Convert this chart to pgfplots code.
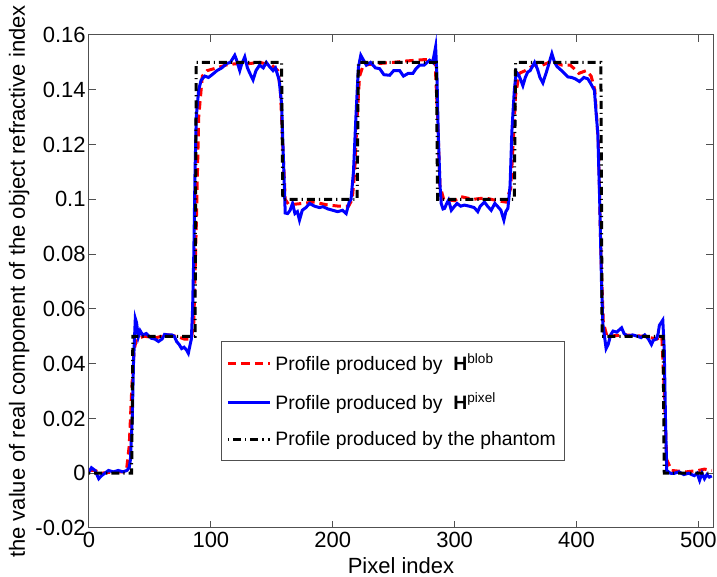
\documentclass[border=0pt]{standalone}
\usepackage{fontspec}
\setmainfont{Liberation Sans}
\usepackage{pgfplots}
\pgfplotsset{compat=1.18}
\definecolor{mred}{RGB}{255,0,0}
\definecolor{mblue}{RGB}{0,0,255}
\definecolor{axisgray}{RGB}{80,80,80}

\begin{document}
\begin{tikzpicture}
\begin{axis}[
    scale only axis,
    width=312pt, height=246.5pt,
    xmin=0, xmax=512,
    ymin=-0.02, ymax=0.16,
    xtick={0,100,200,300,400,500},
    xticklabels={0,100,200,300,400,500},
    ytick={-0.02,0,0.02,0.04,0.06,0.08,0.1,0.12,0.14,0.16},
    yticklabels={-0.02,0,0.02,0.04,0.06,0.08,0.1,0.12,0.14,0.16},
    tick align=inside,
    major tick length=3.5pt,
    axis line style={axisgray, line width=0.5pt},
    every tick/.style={axisgray, line width=0.5pt},
    tick label style={font=\fontsize{11}{13}\selectfont},
    yticklabel style={inner xsep=1.5pt},
    xticklabel style={inner ysep=2pt},
    xlabel={Pixel index},
    ylabel={the value of real component of the object refractive index},
    label style={font=\fontsize{11}{13}\selectfont},
    xlabel style={at={(axis description cs:0.5,-0.076)}, anchor=center},
    ylabel style={at={(axis description cs:-0.112,0.5)}, anchor=center, rotate=0},
    legend style={
        at={(axis description cs:0.2115,0.136)}, anchor=south west,
        draw=axisgray, line width=0.5pt,
        font=\fontsize{9.7}{11.5}\selectfont,
        row sep=5.5pt, inner xsep=2.5pt, inner ysep=4pt,
        legend cell align=left,
    },
    legend image code/.code={\draw[#1] (0pt,0pt) -- (21pt,0pt);},
]
% blob reconstruction
\addplot[mred, line width=1.5pt, dash pattern=on 4.2pt off 2.5pt] coordinates {
(0,0.001)(5,0.001)(10,0)(20,0.0005)(28,0.0005)(31,0.002)(33,0.01)(35,0.03)(37,0.045)(39,0.049)
(45,0.05)(55,0.0495)(65,0.0505)(72,0.05)(78,0.049)(84,0.049)(86,0.055)(88,0.09)(90,0.13)(93,0.145)
(97,0.147)(105,0.148)(112,0.149)(120,0.1495)(130,0.1495)(140,0.150)(150,0.149)(155,0.147)(157,0.14)
(159,0.12)(161,0.10)(164,0.098)(175,0.0985)(185,0.099)(195,0.098)(205,0.0975)(213,0.0975)(216,0.1)
(218,0.11)(220,0.13)(222,0.145)(225,0.149)(235,0.1495)(250,0.150)(260,0.1505)(275,0.151)(282,0.151)
(284,0.15)(286,0.13)(288,0.105)(291,0.1)(300,0.0995)(305,0.101)(315,0.1)(325,0.1005)(335,0.0995)
(342,0.099)(346,0.104)(348,0.12)(350,0.138)(353,0.146)(358,0.147)(365,0.149)(372,0.149)(380,0.1505)
(388,0.149)(395,0.149)(402,0.146)(408,0.147)(412,0.145)(415,0.14)(418,0.12)(420,0.08)(422,0.055)
(425,0.05)(440,0.0505)(455,0.05)(466,0.049)(470,0.05)(472,0.03)(474,0.005)(478,0.001)(490,0.0005)
(500,0.001)(505,0.0015)(511,0.001)
};
\addlegendentry{Profile produced by \ \textbf{H}\textsuperscript{blob}}
% pixel reconstruction
\addplot[mblue, line width=1.5pt] coordinates {
(0,0.0005)(2,0.002)(5,0.001)(8,-0.002)(10,-0.001)(13,0)(16,0.001)(20,0.0005)(24,0.001)(28,0.0005)
(31,0.001)(33,0.002)(34,0.005)(35.5,0.02)(36.5,0.04)(38,0.0565)(39,0.055)(40.5,0.0498)(42,0.052)
(44,0.0505)(47,0.051)(51,0.0493)(54,0.049)(57,0.0481)(60,0.049)(62,0.0507)(65,0.0505)(68,0.0505)
(70,0.050)(72,0.048)(74,0.047)(76,0.0455)(78,0.046)(80,0.045)(81.5,0.0438)(83,0.047)(84,0.049)
(85,0.06)(86,0.08)(87,0.11)(88,0.13)(90,0.14)(92,0.1435)(95,0.145)(98,0.1445)(101,0.1455)(105,0.147)
(109,0.148)(113,0.1496)(116,0.150)(119.6,0.1526)(121,0.151)(123.7,0.147)(125,0.149)(127.8,0.152)
(130,0.148)(132,0.146)(134.6,0.1436)(137,0.147)(140,0.149)(143,0.148)(145.5,0.150)(148,0.1485)
(151,0.147)(153,0.148)(156,0.1436)(158,0.135)(159.5,0.115)(161,0.095)(163,0.0948)(165,0.096)
(167,0.0985)(169,0.0948)(171,0.0955)(172.7,0.0924)(175,0.096)(178,0.097)(181,0.0985)(185,0.0975)
(189,0.097)(192,0.0973)(196,0.0965)(200,0.096)(204,0.0955)(208,0.096)(211,0.0948)(213.5,0.099)
(215,0.1)(217,0.11)(219,0.13)(221,0.148)(223,0.1526)(225,0.151)(227.6,0.149)(231,0.150)(235,0.148)
(238.5,0.1477)(242,0.1455)(246.7,0.1453)(250,0.147)(254.9,0.147)(258,0.145)(262,0.146)(265.8,0.146)
(268,0.1475)(271.3,0.149)(275,0.149)(279.5,0.1508)(282,0.150)(284.4,0.1557)(285.5,0.145)(286.5,0.125)
(288,0.105)(289,0.0985)(290.5,0.0965)(291.8,0.0967)(293.5,0.0985)(295,0.0997)(297.3,0.096)(300,0.0975)
(302,0.0985)(305,0.0975)(308,0.0979)(312,0.0975)(316,0.097)(319,0.0955)(321,0.0975)(324.5,0.099)
(327,0.0975)(330,0.096)(333,0.0985)(335.5,0.0973)(338,0.096)(340.4,0.0924)(342,0.0955)(343.7,0.0967)
(345.5,0.105)(347,0.125)(349,0.14)(350.6,0.1465)(353,0.145)(356,0.1415)(358,0.1445)(360,0.1465)
(362,0.147)(365.6,0.150)(368,0.1475)(370,0.1445)(372.4,0.1425)(375,0.146)(377,0.149)(379.8,0.1532)
(382,0.150)(384,0.1485)(386,0.1477)(389,0.1465)(392.9,0.1447)(396,0.1445)(399,0.144)(402.4,0.143)
(406,0.1445)(409.3,0.144)(412,0.142)(414.7,0.1398)(416,0.132)(417.5,0.124)(419,0.1)(420.5,0.07)
(421.6,0.0546)(424.3,0.0455)(426,0.047)(428,0.0505)(430,0.0519)(433,0.0515)(437,0.0531)(439,0.051)
(442,0.050)(446,0.0505)(450,0.050)(453,0.0495)(456,0.0505)(459,0.049)(461.5,0.047)(463,0.0485)
(465.5,0.049)(467,0.051)(468,0.054)(470.8,0.0559)(472,0.045)(473,0.02)(474,0.001)(477,0.0)
(480,-0.0001)(484,0.0005)(488,-0.0005)(492,0.0)(496.6,-0.0009)(499,0)(501,-0.0026)(503,0)
(505,-0.002)(507,-0.0005)(509,-0.0014)(511,-0.001)
};
\addlegendentry{Profile produced by \ \textbf{H}\textsuperscript{pixel}}
% phantom
\addplot[black, line width=1.5pt, dash pattern=on 0.6pt off 2pt on 4pt off 2pt] coordinates {
(0,0)(35,0)(36,0.05)(87,0.05)(88,0.15)(158,0.15)(159,0.1)(220,0.1)(221,0.15)(285,0.15)
(286,0.1)(349,0.1)(350,0.15)(420,0.15)(421,0.05)(471,0.05)(472,0)(511,0)
};
\addlegendentry{Profile produced by the phantom}
\end{axis}
\pgfresetboundingbox
\path[use as bounding box] ([xshift=-44.5pt,yshift=-24.5pt]current axis.south west) rectangle ([xshift=2pt,yshift=17.5pt]current axis.north east);
\end{tikzpicture}
\end{document}
